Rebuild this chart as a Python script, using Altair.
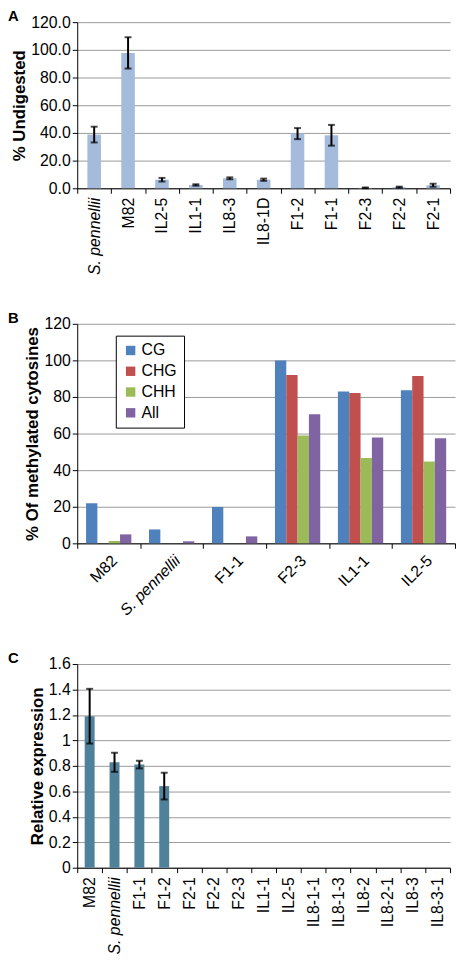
import altair as alt
import pandas as pd

FONT = "Liberation Sans"

# ---------- Panel A data ----------
a_cats = ["S. pennellii", "M82", "IL2-5", "IL1-1", "IL8-3", "IL8-1D",
          "F1-2", "F1-1", "F2-3", "F2-2", "F2-1"]
a_vals = [38.8, 97.8, 6.2, 2.4, 7.2, 6.2, 39.5, 38.3, 0.3, 0.8, 2.2]
a_err = [5.7, 11.3, 1.3, 0.5, 0.7, 0.8, 4.0, 7.5, 0.3, 0.4, 1.1]

# ---------- Panel B data ----------
b_cats = ["M82", "S. pennellii", "F1-1", "F2-3", "IL1-1", "IL2-5"]
b_series = ["CG", "CHG", "CHH", "All"]
b_cg = [21.9, 7.6, 19.9, 100.0, 83.0, 83.7]
b_chg = [0.0, 0.0, 0.0, 92.0, 82.2, 91.5]
b_chh = [1.3, 0.0, 0.0, 59.0, 46.7, 44.7]
b_all = [4.9, 1.1, 3.8, 70.5, 57.8, 57.4]
b_colors = ["#4F81BD", "#C0504D", "#9BBB59", "#8064A2"]

# ---------- Panel C data ----------
c_cats = ["M82", "S. pennellii", "F1-1", "F1-2", "F2-1", "F2-2", "F2-3",
          "IL1-1", "IL2-5", "IL8-1-1", "IL8-1-3", "IL8-2", "IL8-2-1",
          "IL8-3", "IL8-3-1"]
c_vals = [1.19, 0.828, 0.81, 0.641, 0, 0, 0, 0, 0, 0, 0, 0, 0, 0, 0]
c_err = [0.215, 0.075, 0.03, 0.105, 0, 0, 0, 0, 0, 0, 0, 0, 0, 0, 0]

panel_letters = ["A", "B", "C"]

ITALIC = {"condition": {"test": "datum.value === 'S. pennellii'", "value": "italic"},
          "value": "normal"}

GRID = "#9a9a9a"


def xaxis(angle):
    return alt.Axis(title=None, labelAngle=angle, tickBand="extent", labelFontSize=16,
                    labelFont=FONT, labelColor="black", labelFontStyle=ITALIC,
                    domainColor="black", tickColor="black", tickSize=5,
                    labelPadding=4, labelOverlap=False, grid=False)


def yaxis(title, values, fmt):
    return alt.Axis(title=title, values=values, format=fmt, labelFontSize=16,
                    labelFont=FONT, labelColor="black", titleFont=FONT,
                    titleFontSize=17, titleFontWeight="bold", titleColor="black",
                    domainColor="black", tickColor="black", tickSize=5,
                    labelOverlap=False, gridColor=GRID, gridWidth=1, titlePadding=2)


def letter(t):
    return alt.Chart(pd.DataFrame({"t": [t]})).mark_text(
        align="left", baseline="top", font=FONT, fontSize=15, fontWeight="bold",
        color="black").encode(x=alt.value(-70), y=alt.value(-13), text="t:N")


# ---------- Panel A ----------
ya = alt.Y("val:Q", scale=alt.Scale(domain=[0, 120]),
           axis=yaxis("% Undigested", [0, 20, 40, 60, 80, 100, 120], ".1f"))
ya_lo = alt.Y("lo:Q", scale=alt.Scale(domain=[0, 120]),
              axis=yaxis("% Undigested", [0, 20, 40, 60, 80, 100, 120], ".1f"))
ya_hi = alt.Y("hi:Q", scale=alt.Scale(domain=[0, 120]),
              axis=yaxis("% Undigested", [0, 20, 40, 60, 80, 100, 120], ".1f"))
xa = alt.X("cat:N", sort=a_cats, scale=alt.Scale(paddingInner=0, paddingOuter=0),
           axis=xaxis(-90))
dfa = pd.DataFrame({"cat": a_cats, "val": a_vals, "err": a_err})
basea = alt.Chart(dfa).transform_calculate(lo="datum.val - datum.err",
                                           hi="datum.val + datum.err")
bars_a = basea.mark_bar(color="#A5BBDC", width=alt.RelativeBandSize(0.4)).encode(
    x=xa, y=ya)
rule_a = basea.mark_rule(color="black", strokeWidth=2).encode(x=xa, y=ya_lo, y2="hi:Q")
tlo_a = basea.mark_tick(color="black", thickness=2, size=7).encode(x=xa, y=ya_lo)
thi_a = basea.mark_tick(color="black", thickness=2, size=7).encode(x=xa, y=ya_hi)
chart_a = alt.layer(bars_a, rule_a, tlo_a, thi_a, letter(panel_letters[0])).properties(
    width=377, height=168)

# ---------- Panel B ----------
rows = []
for i, c in enumerate(b_cats):
    for s, vals in zip(b_series, [b_cg, b_chg, b_chh, b_all]):
        rows.append({"cat": c, "series": s, "val": vals[i]})
dfb = pd.DataFrame(rows)
bars_b = alt.Chart(dfb).mark_bar().encode(
    x=alt.X("cat:N", sort=b_cats, scale=alt.Scale(paddingInner=0, paddingOuter=0),
            axis=xaxis(-45)),
    xOffset=alt.XOffset("series:N", sort=b_series,
                        scale=alt.Scale(paddingInner=0, paddingOuter=0.78)),
    y=alt.Y("val:Q", scale=alt.Scale(domain=[0, 120]),
            axis=yaxis("% Of methylated cytosines", [0, 20, 40, 60, 80, 100, 120], "d")),
    color=alt.Color("series:N", sort=b_series,
                    scale=alt.Scale(domain=b_series, range=b_colors),
                    legend=alt.Legend(title=None, orient="none", legendX=39, legendY=317,
                                      strokeColor="black", fillColor="white",
                                      padding=7, symbolType="square", symbolSize=90,
                                      symbolStrokeWidth=0, labelFontSize=16,
                                      labelFont=FONT, labelColor="black",
                                      rowPadding=5, labelOffset=3)),
)
chart_b = alt.layer(bars_b, letter(panel_letters[1])).properties(width=382, height=222)

# ---------- Panel C ----------
c_ticks = [0, 0.2, 0.4, 0.6, 0.8, 1.0, 1.2, 1.4, 1.6]
xc = alt.X("cat:N", sort=c_cats, scale=alt.Scale(paddingInner=0, paddingOuter=0),
           axis=xaxis(-90))
yc = alt.Y("val:Q", scale=alt.Scale(domain=[0, 1.6]),
           axis=yaxis("Relative expression", c_ticks, "~g"))
yc_lo = alt.Y("lo:Q", scale=alt.Scale(domain=[0, 1.6]),
              axis=yaxis("Relative expression", c_ticks, "~g"))
yc_hi = alt.Y("hi:Q", scale=alt.Scale(domain=[0, 1.6]),
              axis=yaxis("Relative expression", c_ticks, "~g"))
dfc = pd.DataFrame({"cat": c_cats, "val": c_vals, "err": c_err})
basec = alt.Chart(dfc).transform_calculate(lo="datum.val - datum.err",
                                           hi="datum.val + datum.err")
bars_c = basec.mark_bar(color="#50819B", width=alt.RelativeBandSize(0.4)).encode(
    x=xc, y=yc)
errc = basec.transform_filter("datum.err > 0")
rule_c = errc.mark_rule(color="black", strokeWidth=2).encode(x=xc, y=yc_lo, y2="hi:Q")
tlo_c = errc.mark_tick(color="black", thickness=2, size=7).encode(x=xc, y=yc_lo)
thi_c = errc.mark_tick(color="black", thickness=2, size=7).encode(x=xc, y=yc_hi)
chart_c = alt.layer(bars_c, rule_c, tlo_c, thi_c, letter(panel_letters[2])).properties(
    width=377, height=206)

chart = alt.vconcat(alt.vconcat(chart_a, chart_b, spacing=36), chart_c,
                    spacing=33).properties(
    padding={"top": -4, "left": 0, "right": 0, "bottom": 0}
).configure_view(stroke=None)

chart.save("out.html", embed_options={"renderer": "svg", "actions": False})
